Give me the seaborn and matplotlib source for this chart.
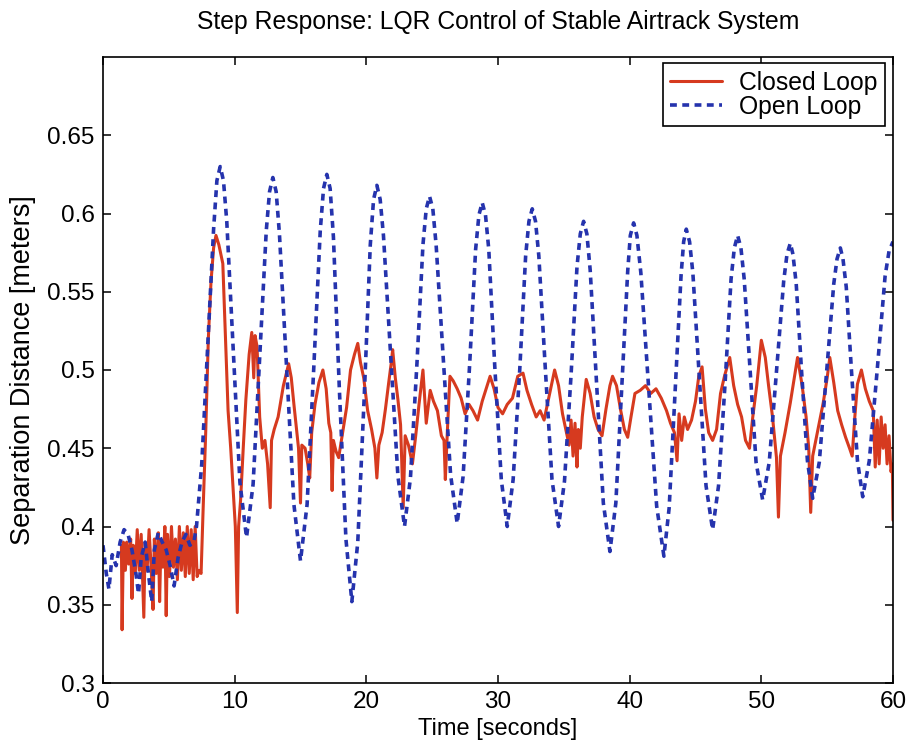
import numpy as np
import pandas as pd
import matplotlib
matplotlib.use("Agg")
import matplotlib.pyplot as plt
import seaborn as sns

# (time [s], separation [m])
open_loop = [
    (0.0, 0.388), (0.25, 0.37), (0.45, 0.36), (0.7, 0.382), (1.0, 0.375), (1.3, 0.39),
    (1.6, 0.398), (1.9, 0.395), (2.2, 0.385), (2.5, 0.37), (2.7, 0.357), (2.9, 0.38),
    (3.2, 0.39), (3.45, 0.37), (3.7, 0.352), (3.9, 0.385), (4.2, 0.396), (4.5, 0.39),
    (4.8, 0.385), (5.1, 0.375), (5.4, 0.362), (5.7, 0.38), (6.0, 0.39), (6.3, 0.395),
    (6.6, 0.388), (6.9, 0.39), (7.1, 0.40),
    (7.5, 0.44), (7.95, 0.515), (8.4, 0.59), (8.65, 0.621), (8.9, 0.630), (9.15, 0.621),
    (9.4, 0.595), (9.9, 0.512), (10.4, 0.428), (10.9, 0.393),
    (11.4, 0.427), (11.9, 0.508), (12.4, 0.589), (12.65, 0.614), (12.9, 0.623), (13.15, 0.614),
    (13.4, 0.587), (13.95, 0.50), (14.5, 0.414), (15.0, 0.378),
    (15.5, 0.414), (16.0, 0.50), (16.5, 0.589), (16.75, 0.616), (17.0, 0.625), (17.25, 0.616),
    (17.5, 0.585), (17.95, 0.488), (18.45, 0.392), (18.9, 0.352),
    (19.35, 0.39), (19.85, 0.485), (20.3, 0.58), (20.55, 0.609), (20.8, 0.618), (21.05, 0.609),
    (21.3, 0.586), (21.85, 0.509), (22.4, 0.432), (22.9, 0.40),
    (23.35, 0.431), (23.85, 0.505), (24.3, 0.58), (24.55, 0.603), (24.8, 0.611), (25.05, 0.603),
    (25.3, 0.58), (25.85, 0.506), (26.4, 0.433), (26.9, 0.402),
    (27.35, 0.432), (27.85, 0.504), (28.3, 0.577), (28.55, 0.599), (28.8, 0.607), (29.05, 0.599),
    (29.3, 0.577), (29.75, 0.503), (30.25, 0.43), (30.7, 0.40),
    (31.15, 0.43), (31.65, 0.50), (32.1, 0.573), (32.35, 0.595), (32.6, 0.603), (32.85, 0.595),
    (33.1, 0.573), (33.6, 0.50), (34.1, 0.43), (34.6, 0.40),
    (35.05, 0.429), (35.55, 0.497), (36.0, 0.566), (36.25, 0.587), (36.5, 0.595), (36.75, 0.587),
    (37.0, 0.564), (37.5, 0.49), (38.0, 0.415), (38.5, 0.384),
    (38.95, 0.415), (39.4, 0.489), (39.85, 0.563), (40.05, 0.586), (40.3, 0.594), (40.55, 0.586),
    (40.85, 0.562), (41.45, 0.488), (42.05, 0.413), (42.6, 0.381),
    (43.0, 0.412), (43.45, 0.486), (43.9, 0.56), (44.1, 0.582), (44.3, 0.59), (44.55, 0.582),
    (44.8, 0.562), (45.3, 0.494), (45.8, 0.426), (46.3, 0.398),
    (46.75, 0.426), (47.25, 0.492), (47.7, 0.558), (47.95, 0.578), (48.2, 0.586), (48.45, 0.578),
    (48.7, 0.558), (49.15, 0.50), (49.6, 0.441), (50.1, 0.417),
    (50.6, 0.441), (51.15, 0.499), (51.7, 0.557), (51.95, 0.574), (52.2, 0.581), (52.4, 0.574),
    (52.65, 0.555), (53.05, 0.50), (53.5, 0.442), (53.9, 0.418),
    (54.4, 0.441), (54.95, 0.498), (55.5, 0.555), (55.75, 0.571), (56.0, 0.578), (56.2, 0.571),
    (56.45, 0.553), (56.85, 0.499), (57.3, 0.442), (57.7, 0.419),
    (58.2, 0.442), (58.8, 0.50), (59.4, 0.56), (59.7, 0.576), (60.0, 0.582),
]

closed_loop = [
    (1.40, 0.388), (1.45, 0.334), (1.55, 0.39), (1.7, 0.372), (1.8, 0.39), (1.95, 0.376),
    (2.1, 0.392), (2.2, 0.354), (2.3, 0.388), (2.45, 0.37), (2.6, 0.398), (2.75, 0.372),
    (2.9, 0.395), (3.0, 0.368), (3.1, 0.342), (3.2, 0.39), (3.35, 0.372), (3.5, 0.398),
    (3.65, 0.375), (3.8, 0.347), (3.9, 0.392), (4.05, 0.37), (4.2, 0.396), (4.3, 0.352),
    (4.4, 0.39), (4.55, 0.374), (4.7, 0.40), (4.8, 0.343), (4.9, 0.395), (5.05, 0.368),
    (5.2, 0.40), (5.35, 0.374), (5.5, 0.392), (5.65, 0.366), (5.8, 0.40), (5.95, 0.372),
    (6.1, 0.396), (6.25, 0.368), (6.4, 0.40), (6.55, 0.37), (6.7, 0.398), (6.85, 0.366),
    (7.0, 0.40), (7.15, 0.368), (7.3, 0.372),
    (7.45, 0.37), (7.6, 0.41), (7.8, 0.46), (8.0, 0.52), (8.2, 0.556), (8.4, 0.578),
    (8.58, 0.586), (8.8, 0.58), (9.1, 0.568), (9.3, 0.52), (9.5, 0.474), (9.7, 0.45),
    (9.9, 0.421), (10.05, 0.40), (10.2, 0.345), (10.3, 0.40), (10.45, 0.417), (10.65, 0.45),
    (10.85, 0.481), (11.1, 0.51), (11.3, 0.524), (11.45, 0.495), (11.55, 0.522), (11.7, 0.515),
    (11.9, 0.47), (12.1, 0.45), (12.3, 0.455), (12.5, 0.44), (12.7, 0.412), (12.8, 0.455),
    (13.0, 0.462), (13.3, 0.47), (13.7, 0.49), (14.1, 0.504), (14.3, 0.495), (14.5, 0.478),
    (14.7, 0.462), (14.85, 0.45), (15.0, 0.415), (15.1, 0.452), (15.35, 0.45), (15.55, 0.44),
    (15.7, 0.431), (15.85, 0.46), (16.1, 0.478), (16.4, 0.492), (16.7, 0.50), (16.95, 0.488),
    (17.15, 0.466), (17.3, 0.46), (17.4, 0.423), (17.5, 0.455), (17.7, 0.448), (17.9, 0.444),
    (18.2, 0.46), (18.5, 0.476), (18.8, 0.50), (19.1, 0.51), (19.35, 0.517), (19.55, 0.505),
    (19.8, 0.495), (20.1, 0.474), (20.4, 0.462), (20.65, 0.45), (20.8, 0.431), (20.95, 0.452),
    (21.2, 0.46), (21.45, 0.475), (21.7, 0.492), (21.9, 0.505), (22.0, 0.513), (22.2, 0.495),
    (22.4, 0.481), (22.6, 0.465), (22.8, 0.412), (22.95, 0.458), (23.2, 0.452), (23.5, 0.44),
    (23.75, 0.458), (24.0, 0.478), (24.3, 0.50), (24.55, 0.466), (24.85, 0.487), (25.1, 0.48),
    (25.4, 0.474), (25.7, 0.458), (25.9, 0.455), (26.0, 0.43), (26.15, 0.46), (26.35, 0.496),
    (26.6, 0.493), (26.9, 0.488), (27.2, 0.482), (27.5, 0.472), (27.8, 0.478), (28.1, 0.474),
    (28.45, 0.468), (28.8, 0.48), (29.1, 0.488), (29.4, 0.496), (29.7, 0.488), (30.0, 0.476),
    (30.35, 0.472), (30.7, 0.478), (31.1, 0.482), (31.5, 0.496), (31.9, 0.498), (32.2, 0.487),
    (32.55, 0.478), (32.9, 0.47), (33.2, 0.474), (33.5, 0.468), (33.8, 0.48), (34.05, 0.49),
    (34.3, 0.50), (34.6, 0.49), (34.9, 0.472), (35.2, 0.46), (35.4, 0.452), (35.55, 0.468),
    (35.7, 0.445), (35.85, 0.466), (36.0, 0.438), (36.1, 0.462), (36.25, 0.45), (36.4, 0.47),
    (36.7, 0.494), (37.0, 0.485), (37.3, 0.47), (37.6, 0.462), (37.9, 0.458), (38.2, 0.475),
    (38.5, 0.49), (38.7, 0.496), (39.0, 0.49), (39.3, 0.475), (39.6, 0.462), (39.85, 0.457),
    (40.1, 0.47), (40.4, 0.485), (40.8, 0.487), (41.2, 0.49), (41.6, 0.485), (42.0, 0.488),
    (42.4, 0.482), (42.8, 0.474), (43.1, 0.466), (43.4, 0.46), (43.6, 0.442), (43.75, 0.472),
    (43.95, 0.455), (44.15, 0.47), (44.4, 0.462), (44.7, 0.468), (45.0, 0.48), (45.25, 0.496),
    (45.5, 0.502), (45.75, 0.475), (46.0, 0.46), (46.3, 0.455), (46.6, 0.462), (46.9, 0.485),
    (47.2, 0.496), (47.6, 0.508), (47.9, 0.49), (48.2, 0.478), (48.5, 0.47), (48.8, 0.455),
    (49.1, 0.45), (49.35, 0.47), (49.65, 0.49), (50.0, 0.519), (50.3, 0.508), (50.55, 0.49),
    (50.85, 0.47), (51.15, 0.444), (51.3, 0.406), (51.45, 0.445), (51.8, 0.46), (52.2, 0.479),
    (52.5, 0.495), (52.75, 0.508), (53.1, 0.49), (53.4, 0.47), (53.6, 0.45), (53.75, 0.409),
    (53.9, 0.445), (54.3, 0.462), (54.7, 0.479), (55.0, 0.495), (55.2, 0.508), (55.5, 0.492),
    (55.8, 0.474), (56.1, 0.465), (56.4, 0.457), (56.7, 0.45), (56.9, 0.445), (57.1, 0.47),
    (57.3, 0.491), (57.6, 0.50), (57.9, 0.488), (58.2, 0.48), (58.5, 0.474), (58.65, 0.438),
    (58.8, 0.468), (58.95, 0.44), (59.1, 0.47), (59.25, 0.45), (59.4, 0.465), (59.55, 0.44),
    (59.7, 0.458), (59.85, 0.435), (59.95, 0.44), (60.0, 0.404),
]

x_ticks = [0, 10, 20, 30, 40, 50, 60]
y_ticks = [0.3, 0.35, 0.4, 0.45, 0.5, 0.55, 0.6, 0.65]
y_tick_labels = ["0.3", "0.35", "0.4", "0.45", "0.5", "0.55", "0.6", "0.65"]

RED = "#d63a1f"
BLUE = "#2533ad"

open_df = pd.DataFrame(open_loop, columns=["time", "sep"])
closed_df = pd.DataFrame(closed_loop, columns=["time", "sep"])

sns.set_style("ticks")
plt.rcParams["font.family"] = ["Liberation Sans", "DejaVu Sans"]
plt.rcParams["text.color"] = "black"
plt.rcParams["axes.labelcolor"] = "black"

fig = plt.figure(figsize=(9.12, 7.46), dpi=100)
ax = fig.add_axes([103 / 912, 63 / 746, 790 / 912, 626 / 746])

sns.lineplot(data=closed_df, x="time", y="sep", ax=ax, color=RED, lw=2.2,
             estimator=None, sort=False, label="Closed Loop")
sns.lineplot(data=open_df, x="time", y="sep", ax=ax, color=BLUE, lw=2.6,
             estimator=None, sort=False, label="Open Loop")
ax.lines[1].set_dashes((1.9, 1.5))

ax.set_xlim(0, 60)
ax.set_ylim(0.3, 0.7)
ax.set_xticks(x_ticks)
ax.set_yticks(y_ticks)
ax.set_yticklabels(y_tick_labels)
ax.tick_params(direction="in", top=True, right=True, length=6, width=1.1,
               labelsize=17.5, pad=6, colors="black")
for s in ax.spines.values():
    s.set_visible(True)
    s.set_linewidth(1.2)
    s.set_color("black")

ax.set_xlabel("Time [seconds]", fontsize=17, labelpad=3, color="black")
ax.set_ylabel("Separation Distance [meters]", fontsize=19.5, labelpad=8, color="black")
ax.set_title("Step Response: LQR Control of Stable Airtrack System",
             fontsize=17.8, pad=20, color="black")

leg = ax.legend(loc="upper right", bbox_to_anchor=(0.99, 0.99), borderaxespad=0,
                fontsize=17.8, frameon=True, fancybox=False, edgecolor="black",
                framealpha=1, handlelength=2.1, handletextpad=0.7,
                labelspacing=0.0, borderpad=0.3)
leg.get_frame().set_linewidth(1.2)
for t in leg.get_texts():
    t.set_color("black")

fig.savefig("out.png", dpi=100)
